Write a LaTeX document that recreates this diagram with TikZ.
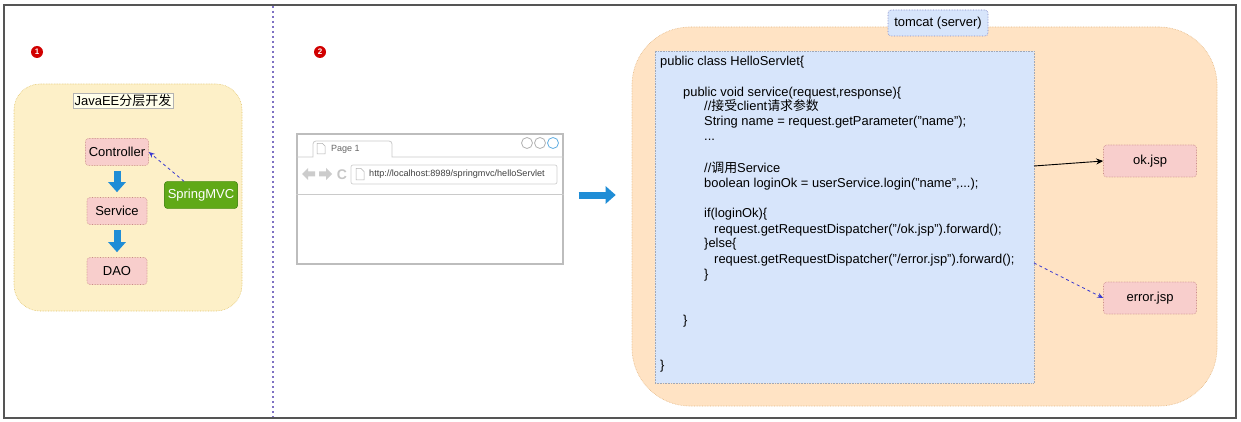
\documentclass[tikz,border=0pt]{standalone}
\usepackage{fontspec}
\setmainfont{Liberation Sans}
\newfontfamily\cjk{Noto Sans CJK SC}
\usetikzlibrary{arrows.meta}
\definecolor{frameC}{HTML}{555555}
\definecolor{divC}{HTML}{7E72C4}
\definecolor{yelF}{HTML}{FDF0C8}
\definecolor{yelD}{HTML}{E2C46A}
\definecolor{pinkF}{HTML}{F8CECC}
\definecolor{pinkD}{HTML}{C98A88}
\definecolor{greenF}{HTML}{60A917}
\definecolor{greenD}{HTML}{2D7600}
\definecolor{blueA}{HTML}{1F8DD6}
\definecolor{dashB}{HTML}{3B3BD0}
\definecolor{orF}{HTML}{FFE3C4}
\definecolor{orD}{HTML}{E3B681}
\definecolor{codeF}{HTML}{D7E5FB}
\definecolor{codeD}{HTML}{A0A8B8}
\definecolor{brC}{HTML}{BDBDBD}
\definecolor{badgeC}{HTML}{D10000}
\tikzset{
  x=1pt, y=-1pt,
  lbl/.style={font=\fontsize{13}{15}\selectfont},
  pinkbox/.style={draw=pinkD, fill=pinkF, densely dotted, line width=0.6pt, rounded corners=3pt, minimum width=93pt, minimum height=32pt, lbl},
  layerbox/.style={pinkbox, minimum width=60pt, minimum height=27pt},
  code/.style={anchor=base west, inner sep=0pt, font=\fontsize{12.9}{14}\selectfont},
  badge/.style={circle, fill=badgeC, inner sep=0pt, minimum size=12pt, text=white, font=\fontsize{8}{8}\bfseries\selectfont},
  blockarrow/.style={draw=blueA, line width=7pt, -{Triangle[width=17pt,length=10pt]}},
  dasharrow/.style={draw=dashB, dashed, line width=0.8pt, -{Stealth[length=6pt,width=5pt]}},
  brline/.style={draw=brC!80, line width=0.8pt}
}
\begin{document}
\begin{tikzpicture}
\useasboundingbox (0,0) rectangle (1241,422);
\fill[white] (0,0) rectangle (1241,422);
% frame
\draw[frameC, line width=1.5pt] (4,5) rectangle (1236,418);
% divider
\draw[divC, line width=1.6pt, dash pattern=on 2pt off 3pt] (273,6) -- (273,417);
% badges
\node[badge] (b1) at (37,52) {1};
\node[badge] (b2) at (320,52) {2};

% ---- left part
\draw[fill=yelF, draw=yelD, densely dotted, line width=0.6pt, rounded corners=26pt] (14,84) rectangle (242,311);
\node[draw=gray!60, fill=yellow!8, inner sep=1.5pt, lbl] (title) at (123,101) {JavaEE{\cjk 分层开发}};
\node[layerbox] (ctrl) at (117,152) {Controller};
\node[layerbox] (svc) at (117,211) {Service};
\node[layerbox] (dao) at (117,271) {DAO};
\node[draw=greenD, fill=greenF, rounded corners=3pt, minimum width=70pt, minimum height=27pt, text=white, lbl] (mvc) at (201,195) {SpringMVC};
\draw[blockarrow, shorten <=5pt, shorten >=5pt] (ctrl) -- (svc);
\draw[blockarrow, shorten <=5pt, shorten >=5pt] (svc) -- (dao);
\draw[dasharrow] (mvc.north -| 184,0) -- (ctrl.east);

% ---- browser
\node[draw=brC, line width=1.2pt, minimum width=266pt, minimum height=130pt, inner sep=0pt] (br) at (430,199) {};
\draw[brline] (br.west |- 0,157) -- (313,157) -- (313,144) to[out=90,in=180] (316,141) -- (389,141) to[out=0,in=90] (392,144) -- (392,157) -- (br.east |- 0,157);
\draw[brline] (br.west |- 0,194) -- (br.east |- 0,194);
\draw[draw=gray!60, line width=0.5pt] (317,143.5) -- (322.5,143.5) -- (325,146) -- (325,154) -- (317,154) -- cycle;
\node[anchor=west, inner sep=0pt, text=gray!80!black, font=\fontsize{9}{10}\selectfont] (tab) at (331,149) {Page 1};
\draw[gray!60, line width=0.8pt] (527,143) circle (5.5pt) (540,143) circle (5.5pt);
\draw[blueA!70, line width=0.8pt] (553,143) circle (5.5pt);
\fill[gray!40] (302,174) -- (308,168) -- (308,171.5) -- (315,171.5) -- (315,176.5) -- (308,176.5) -- (308,180) -- cycle;
\fill[gray!40] (332,174) -- (326,168) -- (326,171.5) -- (319,171.5) -- (319,176.5) -- (326,176.5) -- (326,180) -- cycle;
\node[text=gray!45, inner sep=0pt, font=\fontsize{14}{14}\bfseries\selectfont] (refresh) at (342,175) {C};
\draw[draw=brC!70, line width=0.7pt, rounded corners=2pt] (351,165) rectangle (557,184);
\draw[draw=gray!60, line width=0.5pt] (356,168.5) -- (361,168.5) -- (364,171.5) -- (364,180) -- (356,180) -- cycle;
\node[anchor=west, inner sep=0pt, text=black!75, font=\fontsize{9.1}{10}\selectfont] (url) at (369,174.5) {http://localhost:8989/springmvc/helloServlet};

% ---- tomcat
\node[draw=orD, fill=orF, densely dotted, line width=0.6pt, rounded corners=58pt, minimum width=585pt, minimum height=379pt, inner sep=0pt] (tc) at (924.5,216.5) {};
\node[draw=codeD!80!blue, fill=codeF, densely dotted, line width=0.6pt, rounded corners=3pt, minimum width=100pt, minimum height=26pt, lbl] (tclbl) at (938,23) {tomcat (server)};
\node[draw=codeD, fill=codeF, densely dotted, line width=0.6pt, minimum width=379pt, minimum height=332pt, inner sep=0pt] (codebox) at (844.5,217) {};

\node[code] (c1) at (660,66) {public class HelloServlet\{};
\node[code] (c2) at (683,97) {public void service(request,response)\{};
\node[code] (c3) at (704,111) {//{\cjk 接受}client{\cjk 请求参数}};
\node[code] (c4) at (704,126) {String name = request.getParameter("name");};
\node[code] (c5) at (704,141) {...};
\node[code] (c6) at (704,172) {//{\cjk 调用}Service};
\node[code] (c7) at (704,188) {boolean loginOk = userService.login("name",...);};
\node[code] (c8) at (704,217) {if(loginOk)\{};
\node[code] (c9) at (714,233) {request.getRequestDispatcher("/ok.jsp").forward();};
\node[code] (c10) at (704,247) {\}else\{};
\node[code] (c11) at (714,263) {request.getRequestDispatcher("/error.jsp").forward();};
\node[code] (c12) at (704,278) {\}};
\node[code] (c13) at (683,324) {\}};
\node[code] (c14) at (660,369) {\}};

\node[pinkbox] (ok) at (1150,161) {ok.jsp};
\node[pinkbox] (err) at (1150,298) {error.jsp};
\coordinate (okfrom) at (1034,166);
\coordinate (errfrom) at (1034,263);
\draw[black, line width=0.9pt, -{Stealth[length=7pt,width=6pt]}] (okfrom) -- (ok.west);
\draw[dasharrow] (errfrom) -- (err.west);

% ---- big arrow
\draw[blockarrow, shorten <=15pt, shorten >=16pt] (br.east |- 0,195) -- (tc.west |- 0,195);
\end{tikzpicture}
\end{document}
